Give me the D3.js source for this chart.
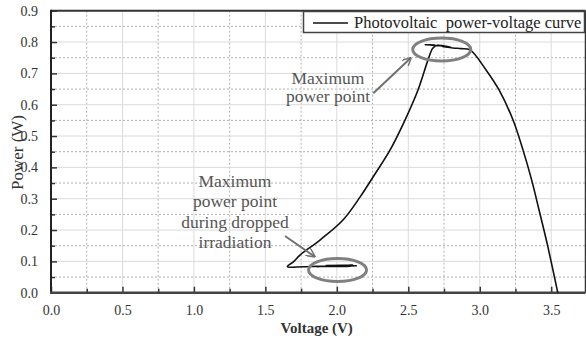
<!DOCTYPE html>
<html><head><meta charset="utf-8">
<script src="https://cdn.jsdelivr.net/npm/d3@7"></script>
<style>body{margin:0;background:#fff}svg{display:block}</style>
</head><body><svg id="c" width="586" height="343"></svg>
<script>
const voltage = [2.14,1.90,2.11,1.86,2.09,1.92,2.10,1.95,2.06,1.85,1.76,1.654,1.70,1.742,1.882,2.043,2.162,2.267,2.372,2.477,2.568,2.638,2.668,2.69,2.617,2.76,2.70,2.80,2.73,2.81,2.74,2.813,2.87,2.932,3.044,3.135,3.233,3.303,3.363,3.415,3.471,3.546];
const power   = [0.086,0.084,0.088,0.083,0.086,0.087,0.084,0.085,0.087,0.084,0.083,0.083,0.100,0.120,0.168,0.232,0.305,0.379,0.455,0.551,0.647,0.743,0.778,0.789,0.791,0.787,0.790,0.783,0.789,0.781,0.786,0.781,0.779,0.775,0.711,0.647,0.551,0.455,0.360,0.264,0.158,0.0];
const xTicks = [0,0.5,1.0,1.5,2.0,2.5,3.0,3.5];
const xMinor = [0.25,0.75,1.25,1.75,2.25,2.75,3.25,3.75];
const yTicks = [0,0.1,0.2,0.3,0.4,0.5,0.6,0.7,0.8,0.9];
const yMinor = [0.05,0.15,0.25,0.35,0.45,0.55,0.65,0.75,0.85];
const legendLabel = "Photovoltaic  power-voltage curve";
const xTitle = "Voltage (V)", yTitle = "Power (W)";
const annotTop = ["Maximum","power point"];
const annotBottom = ["Maximum","power point","during dropped","irradiation"];
const mppTop = [2.734, 0.776], mppLow = [2.005, 0.0725];

const FF = "Liberation Serif";
const svg = d3.select("#c");
const L=51, R=585.5, T=10.7, B=292.7;
const x = d3.scaleLinear([0,3.74],[L,R]);
const y = d3.scaleLinear([0,0.9],[B,T]);

// grid
const g = svg.append("g");
g.selectAll(".vm").data(xMinor.filter(v=>x(v)<R)).join("line").attr("x1",d=>x(d)).attr("x2",d=>x(d)).attr("y1",T).attr("y2",B).attr("stroke","#b0b0b0").attr("stroke-dasharray","2,2");
g.selectAll(".hm").data(yMinor).join("line").attr("x1",L).attr("x2",R).attr("y1",d=>y(d)).attr("y2",d=>y(d)).attr("stroke","#b0b0b0").attr("stroke-dasharray","2,2");
g.selectAll(".vM").data(xTicks.filter(v=>v>0)).join("line").attr("x1",d=>x(d)).attr("x2",d=>x(d)).attr("y1",T).attr("y2",B).attr("stroke","#dadada");
g.selectAll(".hM").data(yTicks.filter(v=>v>0&&v<0.9)).join("line").attr("x1",L).attr("x2",R).attr("y1",d=>y(d)).attr("y2",d=>y(d)).attr("stroke","#dadada");

// axes
const ax = svg.append("g").attr("transform",`translate(0,${B})`)
  .call(d3.axisBottom(x).tickValues(xTicks).tickFormat(d3.format(".1f")).tickSizeInner(-6).tickSizeOuter(0).tickPadding(12));
ax.select(".domain").remove();
ax.selectAll("line").attr("stroke","#333").attr("stroke-width",1.5);
ax.selectAll("text").style("font-family",FF).style("font-size","14px").attr("fill","#333");
svg.append("g").attr("transform",`translate(0,${B})`).call(d3.axisBottom(x).tickValues(xMinor.filter(v=>x(v)<R)).tickFormat("").tickSizeInner(-4).tickSizeOuter(0))
  .call(s=>{s.select(".domain").remove();s.selectAll("line").attr("stroke","#333").attr("stroke-width",1.5);});

const ay = svg.append("g").attr("transform",`translate(${L},0)`)
  .call(d3.axisLeft(y).tickValues(yTicks).tickFormat(d3.format(".1f")).tickSizeInner(-6).tickSizeOuter(0).tickPadding(13));
ay.select(".domain").remove();
ay.selectAll("line").attr("stroke","#333").attr("stroke-width",1.5);
ay.selectAll("text").style("font-family",FF).style("font-size","14px").attr("fill","#333");
svg.append("g").attr("transform",`translate(${L},0)`).call(d3.axisLeft(y).tickValues(yMinor).tickFormat("").tickSizeInner(-4).tickSizeOuter(0))
  .call(s=>{s.select(".domain").remove();s.selectAll("line").attr("stroke","#333").attr("stroke-width",1.5);});

// frame
svg.append("line").attr("x1",L).attr("x2",R).attr("y1",T).attr("y2",T).attr("stroke","#333").attr("stroke-width",2);
svg.append("line").attr("x1",R).attr("x2",R).attr("y1",T).attr("y2",B).attr("stroke","#333").attr("stroke-width",1.5);
svg.append("line").attr("x1",L).attr("x2",L).attr("y1",T-1).attr("y2",B+1).attr("stroke","#222").attr("stroke-width",2);
svg.append("line").attr("x1",L-1).attr("x2",R).attr("y1",B).attr("y2",B).attr("stroke","#444").attr("stroke-width",2.5);

// curve
const pts = voltage.map((v,i)=>[v,power[i]]);
svg.append("path").datum(pts).attr("d",d3.line().curve(d3.curveCatmullRom.alpha(0.5)).x(d=>x(d[0])).y(d=>y(d[1])))
  .attr("fill","none").attr("stroke","#111").attr("stroke-width",1.6).attr("stroke-linejoin","round");

// ellipses
[mppTop,mppLow].forEach(c=>{
  svg.append("ellipse").attr("cx",x(c[0])).attr("cy",y(c[1])).attr("rx",29).attr("ry",11.5)
    .attr("fill","none").attr("stroke","#808080").attr("stroke-width",3);
});

// arrows
const defs = svg.append("defs");
defs.append("marker").attr("id","ah").attr("viewBox","0 0 10 10").attr("refX",9).attr("refY",5)
  .attr("markerWidth",9).attr("markerHeight",9).attr("markerUnits","userSpaceOnUse").attr("orient","auto")
  .append("path").attr("d","M0,0 L10,5 L0,10").attr("fill","none").attr("stroke","#707070").attr("stroke-width",1.6);
svg.append("line").attr("x1",373.3).attr("y1",93.3).attr("x2",x(mppTop[0])-31).attr("y2",y(mppTop[1])+8.5)
  .attr("stroke","#707070").attr("stroke-width",2).attr("marker-end","url(#ah)");
svg.append("line").attr("x1",285).attr("y1",236).attr("x2",x(mppLow[0])-23).attr("y2",y(mppLow[1])-13.5)
  .attr("stroke","#707070").attr("stroke-width",2).attr("marker-end","url(#ah)");

// annotation texts
const t1 = svg.append("text").attr("x",328).attr("y",83.5).attr("text-anchor","middle").style("font-family",FF).style("font-size","17.5px").attr("fill","#555");
annotTop.forEach((s,i)=>t1.append("tspan").attr("x",328).attr("dy",i?18.5:0).text(s));
const t2 = svg.append("text").attr("x",235).attr("y",187).attr("text-anchor","middle").style("font-family",FF).style("font-size","17.5px").attr("fill","#555");
annotBottom.forEach((s,i)=>t2.append("tspan").attr("x",235).attr("dy",i?20.4:0).text(s));

// legend
svg.append("rect").attr("x",303.5).attr("y",11.5).attr("width",281).attr("height",21).attr("fill","#fff").attr("stroke","#444").attr("stroke-width",1.5);
svg.append("line").attr("x1",313).attr("x2",348).attr("y1",23).attr("y2",23).attr("stroke","#111").attr("stroke-width",1.6);
svg.append("text").attr("x",354).attr("y",27.5).style("font-family",FF).style("font-size","16.5px").style("white-space","pre").attr("fill","#222").text(legendLabel);

// axis titles
svg.append("text").attr("x",316.7).attr("y",333).attr("text-anchor","middle").style("font-family",FF).style("font-size","15px").style("font-weight","bold").attr("fill","#333").text(xTitle);
svg.append("text").attr("transform","translate(22.5,152.5) rotate(-90)").attr("text-anchor","middle").style("font-family",FF).style("font-size","17px").attr("fill","#333").text(yTitle);
</script></body></html>
